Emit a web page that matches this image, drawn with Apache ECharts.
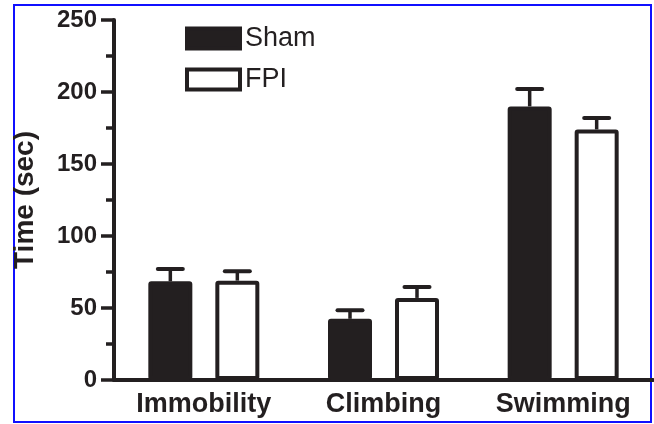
<!DOCTYPE html>
<html>
<head>
<meta charset="utf-8">
<script src="https://cdn.jsdelivr.net/npm/echarts@6/dist/echarts.min.js"></script>
<style>
html,body{margin:0;padding:0;background:#fff;}
#chart{width:654px;height:424px;}
</style>
</head>
<body>
<div id="chart"></div>
<script>
const categories = ['Immobility', 'Climbing', 'Swimming'];
const seriesNames = ['Sham', 'FPI'];
const shamMean = [68.5, 42.5, 190];
const shamErr = [8.5, 6, 12];
const fpiMean = [69, 57, 174];
const fpiErr = [6.5, 7.5, 8];
const yTicks = [0, 50, 100, 150, 200, 250];

const INK = '#231f20';
const FONT = '"Liberation Sans", Arial, sans-serif';
const BAR_W = 44;
const BAR_GAP = 23;
const OFFSET = (BAR_W + BAR_GAP) / 2;

function errSeries(means, errs, dir) {
  return {
    type: 'custom',
    z: 1,
    silent: true,
    data: means.map((m, i) => [i, m, m + errs[i]]),
    renderItem: function (params, api) {
      const lo = api.coord([api.value(0), api.value(1)]);
      const hi = api.coord([api.value(0), api.value(2)]);
      const x = lo[0] + dir * OFFSET;
      const capHalf = 12.5;
      return {
        type: 'group',
        children: [
          { type: 'line', shape: { x1: x, y1: lo[1], x2: x, y2: hi[1] }, style: { stroke: INK, lineWidth: 3.5 } },
          { type: 'line', shape: { x1: x - capHalf, y1: hi[1], x2: x + capHalf, y2: hi[1] }, style: { stroke: INK, lineWidth: 4, lineCap: 'round' } }
        ]
      };
    }
  };
}

const chart = echarts.init(document.getElementById('chart'), null, { renderer: 'canvas' });
chart.setOption({
  animation: false,
  backgroundColor: '#fff',
  textStyle: { fontFamily: FONT, color: INK },
  graphic: [{
    type: 'rect',
    z: -10,
    shape: { x: 14, y: 5, width: 637, height: 417 },
    style: { fill: 'none', stroke: '#1010ff', lineWidth: 2 }
  }],
  legend: {
    orient: 'vertical',
    left: 180,
    top: 20,
    itemWidth: 53,
    itemHeight: 20,
    itemGap: 14,
    icon: 'rect',
    data: seriesNames,
    itemStyle: { borderWidth: 4, borderColor: INK },
    textStyle: { fontFamily: FONT, fontSize: 27, color: INK, fontWeight: 'normal' }
  },
  grid: { left: 114, right: 1, top: 20, bottom: 44, containLabel: false },
  xAxis: {
    type: 'category',
    data: categories,
    axisLine: { lineStyle: { color: INK, width: 4 } },
    axisTick: { alignWithLabel: true, length: 11, lineStyle: { color: INK, width: 3.5 } },
    axisLabel: { fontFamily: FONT, fontSize: 27, fontWeight: 'bold', color: INK, margin: 11 }
  },
  yAxis: {
    type: 'value',
    min: yTicks[0],
    max: yTicks[yTicks.length - 1],
    interval: yTicks[1] - yTicks[0],
    name: 'Time (sec)',
    nameLocation: 'middle',
    nameGap: 75,
    nameTextStyle: { fontFamily: FONT, fontSize: 28, fontWeight: 'bold', color: INK },
    axisLine: { show: true, lineStyle: { color: INK, width: 4 } },
    axisTick: { show: true, length: 13, lineStyle: { color: INK, width: 3.5 } },
    minorTick: { show: true, splitNumber: 2, length: 8, lineStyle: { color: INK, width: 3.5 } },
    splitLine: { show: false },
    axisLabel: { fontFamily: FONT, fontSize: 24, fontWeight: 'bold', color: INK, margin: 17 }
  },
  series: [
    {
      name: seriesNames[0],
      type: 'bar',
      data: shamMean,
      barWidth: BAR_W,
      barGap: (BAR_GAP / BAR_W * 100) + '%',
      z: 2,
      itemStyle: { color: INK, borderColor: INK, borderWidth: 4, borderRadius: 1 }
    },
    {
      name: seriesNames[1],
      type: 'bar',
      data: fpiMean,
      barWidth: BAR_W,
      z: 2,
      itemStyle: { color: '#fff', borderColor: INK, borderWidth: 4, borderRadius: 1 }
    },
    errSeries(shamMean, shamErr, -1),
    errSeries(fpiMean, fpiErr, 1)
  ]
});
</script>
</body>
</html>
